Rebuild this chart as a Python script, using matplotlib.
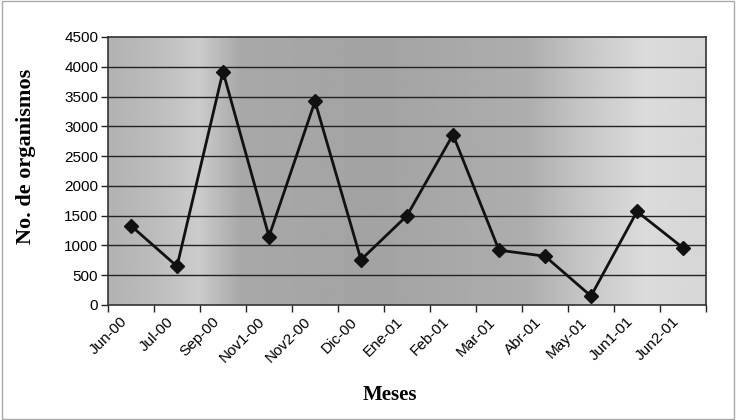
import matplotlib
matplotlib.use("Agg")
import matplotlib.pyplot as plt
import matplotlib.transforms as mtransforms
import numpy as np
from matplotlib.patches import Rectangle

categories = ["Jun-00", "Jul-00", "Sep-00", "Nov1-00", "Nov2-00", "Dic-00", "Ene-01",
              "Feb-01", "Mar-01", "Abr-01", "May-01", "Jun1-01", "Jun2-01"]
organismos = [1330, 650, 3920, 1150, 3420, 760, 1500, 2860, 920, 820, 150, 1570, 960]
y_ticks = [0, 500, 1000, 1500, 2000, 2500, 3000, 3500, 4000, 4500]

fig = plt.figure(figsize=(7.36, 4.2), dpi=100)
fig.patch.set_facecolor("white")
ax = fig.add_axes([108/736, 1-305/420, 598/736, 268/420])

n = len(categories)
x = np.arange(n)
ax.set_xlim(-0.5, n - 0.5)
ax.set_ylim(0, 4500)

# scanned-gray background gradient (style only)
stops_x = [0.0, 0.08, 0.15, 0.22, 0.45, 0.70, 0.80, 0.90, 1.0]
stops_v = [0.70, 0.74, 0.80, 0.66, 0.64, 0.68, 0.78, 0.86, 0.84]
xs = np.linspace(0, 1, 300)
grad = np.interp(xs, stops_x, stops_v)
img = np.tile(grad, (10, 1))
ax.imshow(img, cmap="gray", vmin=0, vmax=1, aspect="auto",
          extent=[0, 1, 0, 1], transform=ax.transAxes, zorder=0)

for yv in y_ticks[1:-1]:
    ax.axhline(yv, color="#222222", lw=1.0, zorder=1)

ax.plot(x, organismos, color="#111111", lw=2.0, marker="D", markersize=7,
        markerfacecolor="#111111", markeredgecolor="#111111", zorder=3)

ax.set_yticks(y_ticks)
ax.set_yticklabels([str(v) for v in y_ticks], fontsize=11, family="Liberation Sans")
ax.set_xticks(x)
ax.set_xticklabels(categories, rotation=45, ha="right", va="center",
                   rotation_mode="anchor", fontsize=11, family="Liberation Sans")
ax.tick_params(axis="x", length=0, pad=10.5)
offset = mtransforms.ScaledTranslation(-6/100, 0, fig.dpi_scale_trans)
for lbl in ax.get_xticklabels():
    lbl.set_transform(lbl.get_transform() + offset)
ax.set_xticks(np.arange(n + 1) - 0.5, minor=True)
ax.tick_params(axis="x", which="minor", length=5, width=1, direction="out", color="#222222")
ax.tick_params(axis="y", length=5, width=1, direction="out", color="#222222", pad=2)

for s in ax.spines.values():
    s.set_color("#333333")
    s.set_linewidth(1.2)

ax.set_ylabel("No. de organismos", fontsize=16, fontweight="bold", family="Liberation Serif")
ax.yaxis.set_label_coords(-0.12, 0.556)
ax.set_xlabel("Meses", fontsize=15, fontweight="bold", family="Liberation Serif")
ax.xaxis.set_label_coords(0.472, -0.30)

fig.patches.append(Rectangle((0.003, 0.003), 0.994, 0.994, transform=fig.transFigure,
                             fill=False, edgecolor="#aaaaaa", lw=1.0))

fig.savefig("out.png", dpi=100)
